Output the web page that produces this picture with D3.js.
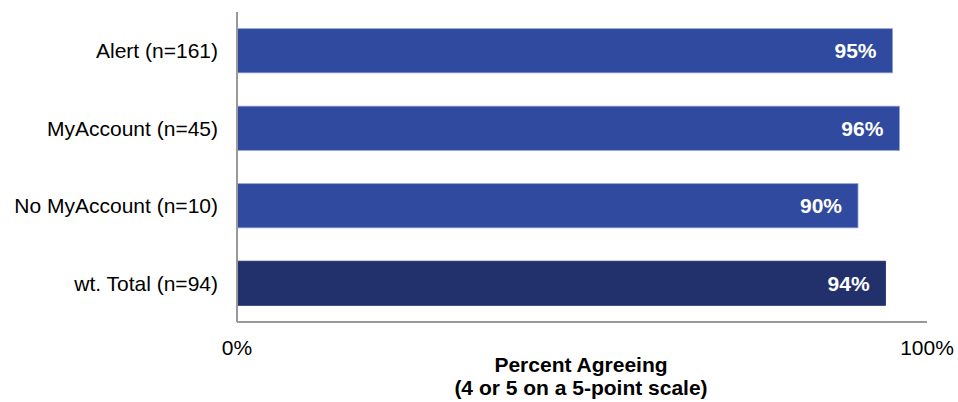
<!DOCTYPE html>
<html>
<head>
<meta charset="utf-8">
<script src="https://cdn.jsdelivr.net/npm/d3@7"></script>
<style>
  body { margin: 0; background: #fff; }
  svg { display: block; font-family: "Liberation Sans", Arial, sans-serif; }
</style>
</head>
<body>
<svg id="chart" width="958" height="402"></svg>
<script>
// Share of respondents agreeing, by group
const categories = ["Alert (n=161)", "MyAccount (n=45)", "No MyAccount (n=10)", "wt. Total (n=94)"];
const values = [95, 96, 90, 94];
const isTotal = [false, false, false, true];
const xTickLabels = ["0%", "100%"];

const svg = d3.select("#chart");
const margin = { left: 237, right: 31, top: 12, bottom: 80 };
const W = 958, H = 402;
const fontSize = 21;

const x = d3.scaleLinear().domain([0, 100]).range([margin.left, W - margin.right]);
const y = d3.scaleBand().domain(categories).range([margin.top, H - margin.bottom]).paddingInner(0.43).paddingOuter(0.215);

// Bars
svg.append("g").selectAll("rect")
  .data(categories)
  .join("rect")
  .attr("x", x(0))
  .attr("y", d => y(d))
  .attr("width", (d, i) => x(values[i]) - x(0))
  .attr("height", y.bandwidth())
  .attr("fill", (d, i) => isTotal[i] ? "#22316b" : "#2f4a9e")
  .attr("stroke", (d, i) => isTotal[i] ? "#22316b" : "#8e9fd2")
  .attr("stroke-width", 0.8);

// Value labels inside bar ends
svg.append("g").selectAll("text")
  .data(categories)
  .join("text")
  .attr("x", (d, i) => x(values[i]) - 16)
  .attr("y", d => y(d) + y.bandwidth() / 2)
  .attr("dy", "0.36em")
  .attr("text-anchor", "end")
  .attr("fill", "#fff")
  .attr("font-weight", "bold")
  .attr("font-size", fontSize)
  .text((d, i) => values[i] + "%");

// Category labels
svg.append("g").selectAll("text")
  .data(categories)
  .join("text")
  .attr("x", margin.left - 19)
  .attr("y", d => y(d) + y.bandwidth() / 2)
  .attr("dy", "0.36em")
  .attr("text-anchor", "end")
  .attr("fill", "#000")
  .attr("font-size", fontSize)
  .text(d => d);

// Axis lines
const axisColor = "#999";
svg.append("line")
  .attr("x1", x(0)).attr("x2", x(0))
  .attr("y1", margin.top).attr("y2", H - margin.bottom)
  .attr("stroke", axisColor).attr("stroke-width", 2);
svg.append("line")
  .attr("x1", x(0)).attr("x2", x(100))
  .attr("y1", H - margin.bottom).attr("y2", H - margin.bottom)
  .attr("stroke", axisColor).attr("stroke-width", 2);

// Tick labels at ends of the x axis
svg.append("g").selectAll("text")
  .data([0, 100])
  .join("text")
  .attr("x", d => x(d))
  .attr("y", 355)
  .attr("text-anchor", "middle")
  .attr("font-size", fontSize)
  .attr("fill", "#000")
  .text((d, i) => xTickLabels[i]);

// Axis title
const title = svg.append("text")
  .attr("text-anchor", "middle")
  .attr("font-weight", "bold")
  .attr("font-size", fontSize)
  .attr("fill", "#000");
title.append("tspan").attr("x", 581).attr("y", 372).text("Percent Agreeing");
title.append("tspan").attr("x", 581).attr("y", 395).text("(4 or 5 on a 5-point scale)");
</script>
</body>
</html>
